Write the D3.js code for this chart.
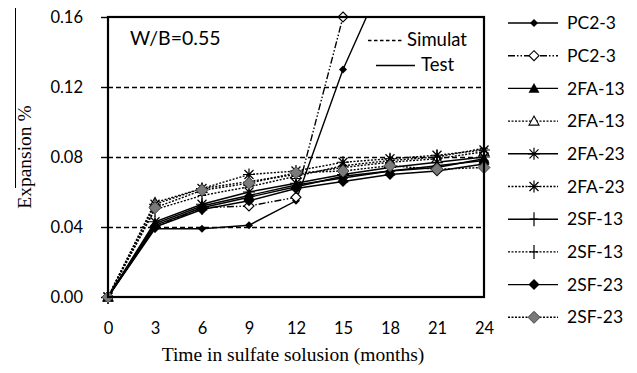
<!DOCTYPE html>
<html>
<head>
<meta charset="utf-8">
<script src="https://cdn.jsdelivr.net/npm/d3@7"></script>
<style>
  body { margin: 0; background: #fff; }
  svg { display: block; }
</style>
</head>
<body>
<div id="chart"></div>
<script>
// Data (months in sulfate solution vs expansion %)
const months = [0, 3, 6, 9, 12, 15, 18, 21, 24];
const yTicks = [0, 0.04, 0.08, 0.12, 0.16];

const pc23Test = [0, 0.039, 0.039, 0.041, 0.055, 0.130, 0.190];
const pc23Sim = [0, 0.040, 0.051, 0.052, 0.057, 0.160];
const fa13Test = [0, 0.042, 0.052, 0.058, 0.064, 0.068, 0.072, 0.074, 0.079];
const fa13Sim = [0, 0.054, 0.062, 0.066, 0.070, 0.074, 0.077, 0.079, 0.083];
const fa23Test = [0, 0.043, 0.053, 0.060, 0.065, 0.070, 0.074, 0.077, 0.080];
const fa23Sim = [0, 0.053, 0.062, 0.070, 0.072, 0.077, 0.079, 0.081, 0.084];
const sf13Test = [0, 0.041, 0.051, 0.057, 0.063, 0.069, 0.072, 0.075, 0.078];
const sf13Sim = [0, 0.050, 0.058, 0.063, 0.069, 0.075, 0.078, 0.080, 0.085];
const sf23Test = [0, 0.040, 0.050, 0.055, 0.062, 0.066, 0.070, 0.072, 0.076];
const sf23Sim = [0, 0.051, 0.061, 0.065, 0.071, 0.072, 0.075, 0.073, 0.074];

// Series: name, values, line style, marker
const series = [
  {name: "PC2-3", values: pc23Test, dash: null, marker: "diamondS"},
  {name: "PC2-3", values: pc23Sim, dash: "7,2,1.5,2,1.5,2", marker: "diamondOpen"},
  {name: "2FA-13", values: fa13Test, dash: null, marker: "triangle"},
  {name: "2FA-13", values: fa13Sim, dash: "2,1.5", marker: "triangleOpen"},
  {name: "2FA-23", values: fa23Test, dash: null, marker: "star"},
  {name: "2FA-23", values: fa23Sim, dash: "2,1.5", marker: "star"},
  {name: "2SF-13", values: sf13Test, dash: null, marker: "plus"},
  {name: "2SF-13", values: sf13Sim, dash: "2,1.5", marker: "plus"},
  {name: "2SF-23", values: sf23Test, dash: null, marker: "diamondL"},
  {name: "2SF-23", values: sf23Sim, dash: "2,1.5", marker: "diamondGray"}
];

const W = 637, H = 373;
const margin = {top: 17, right: 153, bottom: 76, left: 108};
const width = W - margin.left - margin.right;
const height = H - margin.top - margin.bottom;

const svg = d3.select("#chart").append("svg")
  .attr("width", W)
  .attr("height", H);

const g = svg.append("g")
  .attr("transform", `translate(${margin.left},${margin.top})`);

const x = d3.scaleLinear().domain([0, 24]).range([0, width]);
const y = d3.scaleLinear().domain([0, 0.16]).range([height, 0]);

// Clip for lines
svg.append("defs").append("clipPath").attr("id", "plotclip")
  .append("rect").attr("x", 0).attr("y", 0).attr("width", width).attr("height", height);

// Grid lines
g.selectAll(".grid")
  .data(yTicks.filter(d => d > 0 && d < 0.16))
  .enter().append("line")
    .attr("x1", 0).attr("x2", width)
    .attr("y1", d => Math.round(y(d)) + 0.5).attr("y2", d => Math.round(y(d)) + 0.5)
    .attr("stroke", "#000")
    .attr("stroke-width", 1.4)
    .attr("stroke-dasharray", "5,3");

// Y axis
const yAxis = g.append("g")
  .call(d3.axisLeft(y).tickValues(yTicks).tickFormat(d3.format(".2f")).tickSize(7).tickPadding(18));
yAxis.select(".domain").remove();
yAxis.selectAll("line").attr("stroke-width", 1.4);
yAxis.selectAll("text")
  .style("font-family", "Lato, 'Open Sans', sans-serif")
  .style("font-size", "16.5px")
  .attr("fill", "#000");

// X axis
const xAxis = g.append("g")
  .attr("transform", `translate(0,${height})`)
  .call(d3.axisBottom(x).tickValues(months).tickSize(0).tickPadding(25));
xAxis.select(".domain").remove();
xAxis.selectAll("text")
  .style("font-family", "Lato, 'Open Sans', sans-serif")
  .style("font-size", "16.5px")
  .attr("fill", "#000");

// Marker drawing
function diamond(s) { return `M0,${-s}L${s},0L0,${s}L${-s},0Z`; }
function triangle(s) { return `M0,${-s}L${s},${s * 0.8}L${-s},${s * 0.8}Z`; }
function star(s) {
  const d = s * 0.75;
  return `M0,${-s}L0,${s}M${-d},${-d}L${d},${d}M${-d},${d}L${d},${-d}M${-s},0L${s},0`;
}
function plus(s) { return `M0,${-s}L0,${s}M${-s * 0.6},0L${s * 0.6},0`; }

function drawMarker(sel, type) {
  switch (type) {
    case "diamondS":
      sel.append("path").attr("d", diamond(4)).attr("fill", "#000"); break;
    case "diamondL":
      sel.append("path").attr("d", diamond(5.5)).attr("fill", "#000"); break;
    case "diamondOpen":
      sel.append("path").attr("d", diamond(5)).attr("fill", "#fff").attr("stroke", "#000").attr("stroke-width", 1.1); break;
    case "diamondGray":
      sel.append("path").attr("d", diamond(6)).attr("fill", "#7a7a7a").attr("stroke", "#444").attr("stroke-width", 1); break;
    case "triangle":
      sel.append("path").attr("d", triangle(5.5)).attr("fill", "#000"); break;
    case "triangleOpen":
      sel.append("path").attr("d", triangle(5)).attr("fill", "#fff").attr("stroke", "#000").attr("stroke-width", 1.1); break;
    case "star":
      sel.append("path").attr("d", star(6)).attr("fill", "none").attr("stroke", "#000").attr("stroke-width", 1.2); break;
    case "plus":
      sel.append("path").attr("d", plus(7)).attr("fill", "none").attr("stroke", "#000").attr("stroke-width", 1.2); break;
  }
}

const line = d3.line()
  .x((d, i) => x(months[i]))
  .y(d => y(d));

// Lines (clipped to the plot area)
const lineLayer = g.append("g").attr("clip-path", "url(#plotclip)");
series.forEach(s => {
  lineLayer.append("path")
    .datum(s.values)
    .attr("d", line)
    .attr("fill", "none")
    .attr("stroke", "#000")
    .attr("stroke-width", 1.4)
    .attr("stroke-dasharray", s.dash);
});

// Markers
series.forEach(s => {
  s.values.forEach((v, i) => {
    if (v > 0.16) return;
    const m = g.append("g").attr("transform", `translate(${x(months[i])},${y(v)})`);
    drawMarker(m, s.marker);
  });
});

// Frame
g.append("rect")
  .attr("x", 0).attr("y", 0)
  .attr("width", width).attr("height", height)
  .attr("fill", "none")
  .attr("stroke", "#000")
  .attr("stroke-width", 2.2);

// Annotations inside plot
g.append("text")
  .attr("x", 22).attr("y", 28)
  .style("font-family", "Lato, 'Open Sans', sans-serif")
  .style("font-size", "19.5px")
  .text("W/B=0.55");

g.append("line")
  .attr("x1", 260).attr("x2", 294).attr("y1", 23.5).attr("y2", 23.5)
  .attr("stroke", "#000").attr("stroke-width", 1.4).attr("stroke-dasharray", "3.5,2.5");
g.append("text")
  .attr("x", 299).attr("y", 29)
  .style("font-family", "Lato, 'Open Sans', sans-serif")
  .style("font-size", "18.5px")
  .text("Simulat");

g.append("line")
  .attr("x1", 268).attr("x2", 307).attr("y1", 48.5).attr("y2", 48.5)
  .attr("stroke", "#000").attr("stroke-width", 1.4);
g.append("text")
  .attr("x", 313).attr("y", 54)
  .style("font-family", "Lato, 'Open Sans', sans-serif")
  .style("font-size", "18.5px")
  .text("Test");

// Axis titles
svg.append("text")
  .attr("x", margin.left + width / 2 - 3)
  .attr("y", 361)
  .attr("text-anchor", "middle")
  .style("font-family", "'Liberation Serif', 'DejaVu Serif', serif")
  .style("font-size", "19.5px")
  .text("Time in sulfate solusion (months)");

svg.append("text")
  .attr("transform", "translate(31,157) rotate(-90)")
  .attr("text-anchor", "middle")
  .style("font-family", "'Liberation Serif', 'DejaVu Serif', serif")
  .style("font-size", "19.5px")
  .text("Expansion %");

svg.append("line")
  .attr("x1", 15.5).attr("x2", 15.5).attr("y1", 8).attr("y2", 188)
  .attr("stroke", "#000").attr("stroke-width", 1);

// Legend
const legend = svg.append("g").attr("transform", "translate(508,23)");
const items = legend.selectAll(".legend-item")
  .data(series)
  .enter().append("g")
    .attr("class", "legend-item")
    .attr("transform", (d, i) => `translate(0,${i * 32.7})`);

items.append("line")
  .attr("x1", 0).attr("x2", 50)
  .attr("stroke", "#000")
  .attr("stroke-width", 1.4)
  .attr("stroke-dasharray", d => d.dash);

items.each(function(d) {
  const m = d3.select(this).append("g").attr("transform", "translate(26,0)");
  drawMarker(m, d.marker);
});

items.append("text")
  .attr("x", 59)
  .attr("dy", "0.35em")
  .style("font-family", "Lato, 'Open Sans', sans-serif")
  .style("font-size", "17.5px")
  .text(d => d.name);
</script>
</body>
</html>
